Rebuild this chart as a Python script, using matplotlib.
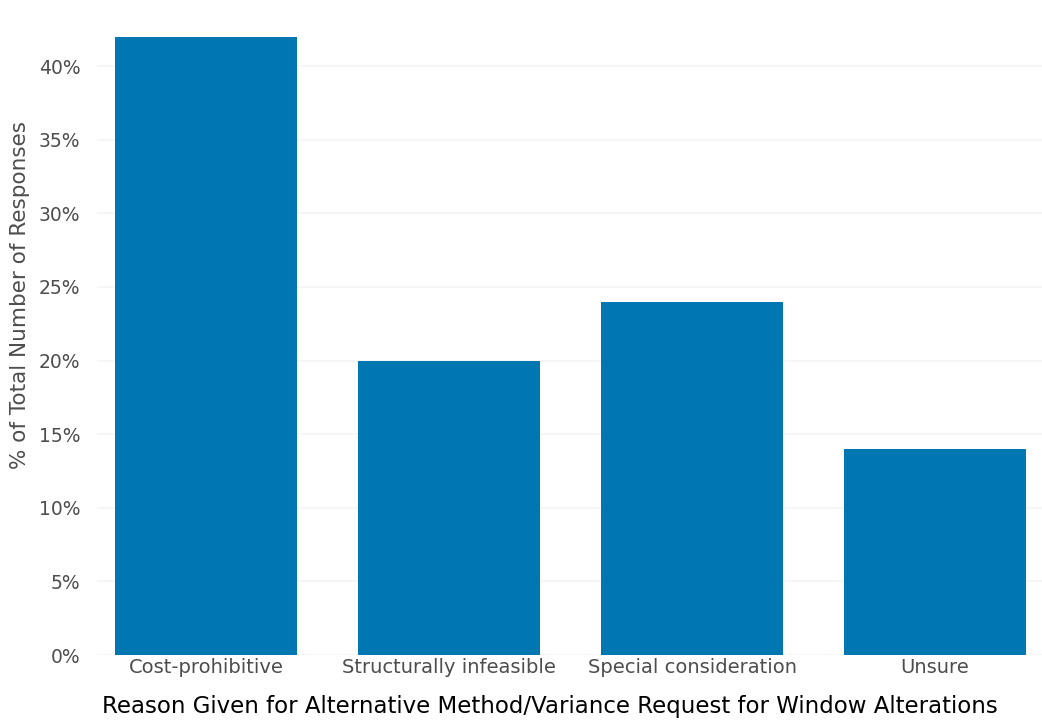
import matplotlib.pyplot as plt
import numpy as np

# share of responses per reason (%)
reasons = ["Cost-prohibitive", "Structurally infeasible",
           "Special consideration", "Unsure"]
pct = [42, 20, 24, 14]
yticks = [0, 5, 10, 15, 20, 25, 30, 35, 40]

plt.rcParams["font.family"] = ["DejaVu Sans"]

fig = plt.figure(figsize=(10.42, 7.27), dpi=100)
ax = fig.add_axes([0.093, 0.099, 0.907, 0.893])

x = np.arange(len(reasons))
ax.bar(x, pct, width=0.75, color="#0177b1", zorder=2)

ax.set_xlim(-0.45, 3.44)
ax.set_ylim(0, 44.1)
ax.set_xticks(x)
ax.set_xticklabels(reasons, fontsize=14, color="#4d4d4d")
ax.set_yticks(yticks)
ax.set_yticklabels([f"{v}%" for v in yticks], fontsize=13.5, color="#4d4d4d")
ax.tick_params(length=0, pad=2)
ax.tick_params(axis="y", pad=12)

ax.grid(axis="y", color="#f6f6f6", linewidth=1.5, zorder=0)
for s in ax.spines.values():
    s.set_visible(False)

ax.set_ylabel("% of Total Number of Responses", fontsize=15.5, color="#4d4d4d")
ax.yaxis.set_label_coords(-0.071, 0.555)
ax.set_xlabel("Reason Given for Alternative Method/Variance Request for Window Alterations",
              fontsize=16.5, color="black")
ax.xaxis.set_label_coords(0.479, -0.062)

fig.savefig("out.png", dpi=100)
